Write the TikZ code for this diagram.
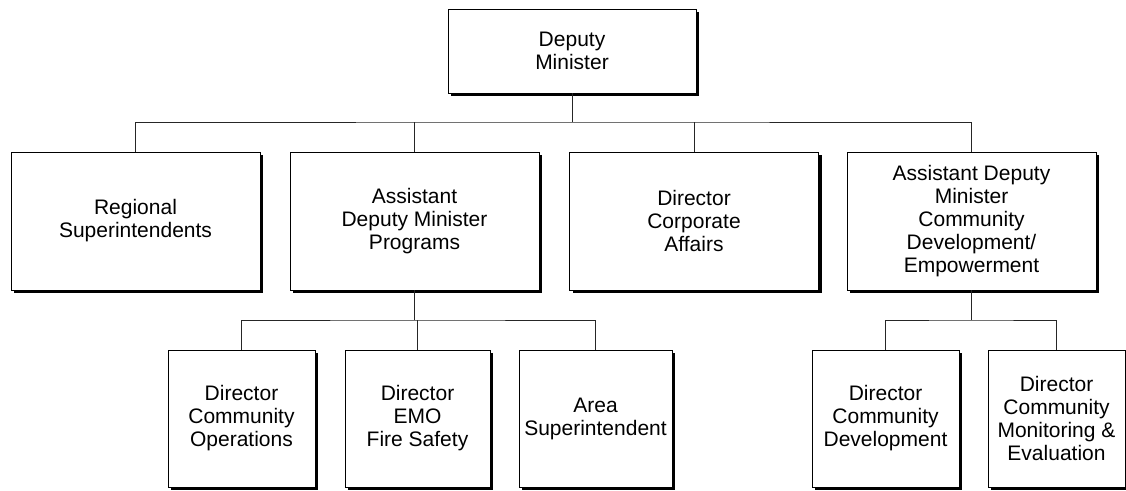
\documentclass[tikz,border=0pt]{standalone}
\usepackage{fontspec}
\setmainfont{Liberation Sans}
\usetikzlibrary{shadows}

\begin{document}
\begin{tikzpicture}[
    x=1pt, y=-1pt,
    orgbox/.style={draw=black, line width=0.8pt, fill=white, align=center,
        inner sep=2pt, font=\fontsize{21}{23}\selectfont,
        drop shadow={shadow xshift=3pt, shadow yshift=-3pt, opacity=1, fill=black}},
    topbox/.style={orgbox, minimum width=249pt, minimum height=138pt},
    subbox/.style={orgbox, minimum height=137pt},
    link/.style={draw=black!85, line width=0.7pt}
]
\useasboundingbox (0,0) rectangle (1126,490);

% === Deputy Minister ===
\node[orgbox, minimum width=248pt, minimum height=84pt] (dm) at (572,51) {Deputy\\Minister};

% === Primer nivel ===
\node[topbox] (reg) at (135.5,221) {Regional\\Superintendents};
\node[topbox] (adp) at (414.5,221) {Assistant\\Deputy Minister\\Programs};
\node[topbox] (dca) at (694,221) {Director\\Corporate\\Affairs};
\node[topbox] (adc) at (971.5,221) {Assistant Deputy\\Minister\\Community\\Development/\\Empowerment};

% === Segundo nivel (Programs) ===
\node[subbox, minimum width=147pt] (cops) at (241.5,418.5) {Director\\Community\\Operations};
\node[subbox, minimum width=145pt] (emo) at (417.5,418.5) {Director\\EMO\\Fire Safety};
\node[subbox, minimum width=153pt, inner sep=0pt] (area) at (595.5,418.5) {Area\\Superintendent};

% === Segundo nivel (Community Development) ===
\node[subbox, minimum width=147pt] (cdev) at (885.5,418.5) {Director\\Community\\Development};
\node[subbox, minimum width=137pt] (cme) at (1056.5,418.5) {Director\\Community\\Monitoring \&\\Evaluation};

% === Lineas de mando ===
\coordinate (bar) at (572,122);
\coordinate (pbar) at (417,320);
\coordinate (cbar) at (971.5,320);
\draw[link] (dm.south) -- (bar);
\draw[link] (reg.north) |- (bar) -| (adc.north);
\draw[link] (adp.north) -- (adp.north |- bar);
\draw[link] (dca.north) -- (dca.north |- bar);

\draw[link] (adp.south) -- (adp.south |- pbar);
\draw[link] (cops.north) |- (pbar) -| (area.north);
\draw[link] (emo.north) -- (emo.north |- pbar);

\draw[link] (adc.south) -- (cbar);
\draw[link] (cdev.north) |- (cbar) -| (cme.north);

\end{tikzpicture}
\end{document}
